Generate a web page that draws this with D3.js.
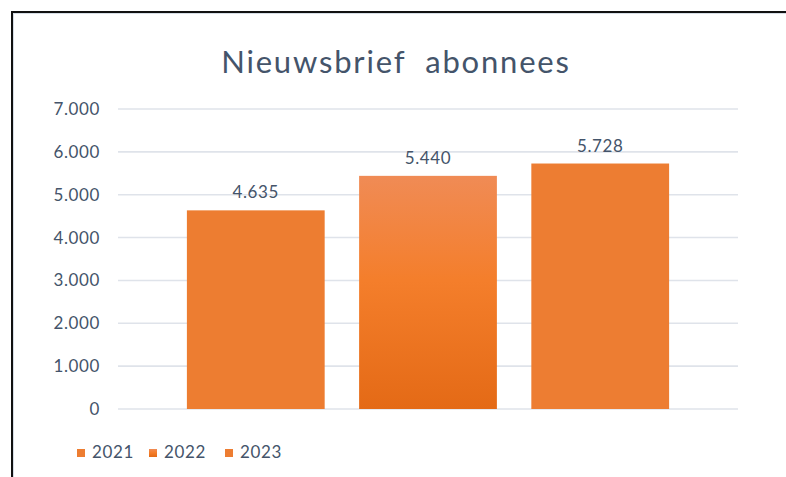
<!DOCTYPE html>
<html lang="nl">
<head>
<meta charset="UTF-8">
<title>Nieuwsbrief abonnees</title>
<style>
body{
	margin:0;
	background:#fff;
}
svg text{
	font-family:Lato, "Open Sans", sans-serif;
	fill:#44546a;
}
.small{
	font-size:17px;
	letter-spacing:0.6px;
}
.grid line{
	stroke:#dfe3ea;
	stroke-width:1.6px;
}
</style>
</head>
<body>
<script src="https://cdn.jsdelivr.net/npm/d3@7"></script>
<script>
// data
var series = ["2021", "2022", "2023"];
var values = [4635, 5440, 5728];
var yTicks = [0, 1000, 2000, 3000, 4000, 5000, 6000, 7000];
var chartTitle = "Nieuwsbrief  abonnees";

var W = 786, H = 477;
var plot = {left:118, right:738, top:109, bottom:409};

var nl = d3.formatLocale({decimal:",", thousands:".", grouping:[3], currency:["€",""]});
var fmt = nl.format(",");

var svg = d3.select("body").append("svg").attr("width", W).attr("height", H);

var defs = svg.append("defs");
var grad = defs.append("linearGradient").attr("id","g2022")
	.attr("x1",0).attr("y1",0).attr("x2",0).attr("y2",1);
grad.append("stop").attr("offset","0%").attr("stop-color","#f08b55");
grad.append("stop").attr("offset","45%").attr("stop-color","#f47e2b");
grad.append("stop").attr("offset","100%").attr("stop-color","#e46a16");

var fills = ["#ed7d31", "url(#g2022)", "#ed7d32"];

// chart frame
svg.append("rect").attr("x",13.5).attr("y",13.5).attr("width",W).attr("height",H)
	.attr("fill","#fff").attr("stroke","#d6dde5").attr("stroke-width",1);
svg.append("rect").attr("x",12).attr("y",12).attr("width",W).attr("height",H)
	.attr("fill","none").attr("stroke","#111").attr("stroke-width",2);

var y = d3.scaleLinear().domain([0, 7000]).range([plot.bottom, plot.top]);
var x0 = d3.scaleBand().domain(["abonnees"]).range([plot.left, plot.right]).padding(0.125);
var x1 = d3.scaleBand().domain(series).range([0, x0.bandwidth()]).paddingInner(0.2).paddingOuter(0);

// gridlines
svg.append("g").attr("class","grid")
	.selectAll("line").data(yTicks).enter().append("line")
	.attr("x1",plot.left).attr("x2",plot.right)
	.attr("y1",function(d){ return y(d);}).attr("y2",function(d){ return y(d);});

// y axis labels
var yAxis = d3.axisLeft(y).tickValues(yTicks).tickFormat(fmt).tickSize(0).tickPadding(0);
var ga = svg.append("g").attr("transform","translate(100,0)").call(yAxis);
ga.select(".domain").remove();
ga.attr("font-family",null).attr("font-size",null);
ga.selectAll("text").attr("class","small").attr("fill","#44546a");

// bars
var cat = svg.append("g").attr("transform","translate(" + x0("abonnees") + ",0)");
cat.selectAll("rect").data(values).enter().append("rect")
	.attr("x",function(d,i){ return x1(series[i]);})
	.attr("y",function(d){ return y(d);})
	.attr("width",x1.bandwidth())
	.attr("height",function(d){ return y(0) - y(d);})
	.attr("fill",function(d,i){ return fills[i];});

// data labels
cat.selectAll("text.lbl").data(values).enter().append("text").attr("class","lbl small")
	.attr("x",function(d,i){ return x1(series[i]) + x1.bandwidth()/2;})
	.attr("y",function(d){ return y(d) - 12;})
	.attr("text-anchor","middle")
	.text(function(d){ return fmt(d);});

// title
svg.append("text").attr("x",396).attr("y",73).attr("text-anchor","middle")
	.style("font-size","31px").style("letter-spacing","1.8px").style("white-space","pre")
	.text(chartTitle);

// legend
var legX = [77, 149, 225];
var leg = svg.append("g").selectAll("g").data(series).enter().append("g")
	.attr("transform",function(d,i){ return "translate(" + legX[i] + ",449)";});
leg.append("rect").attr("width",8).attr("height",8)
	.attr("fill",function(d,i){ return fills[i];});
leg.append("text").attr("class","small").attr("x",15).attr("y",9)
	.text(function(d){ return d;});
</script>
</body>
</html>
